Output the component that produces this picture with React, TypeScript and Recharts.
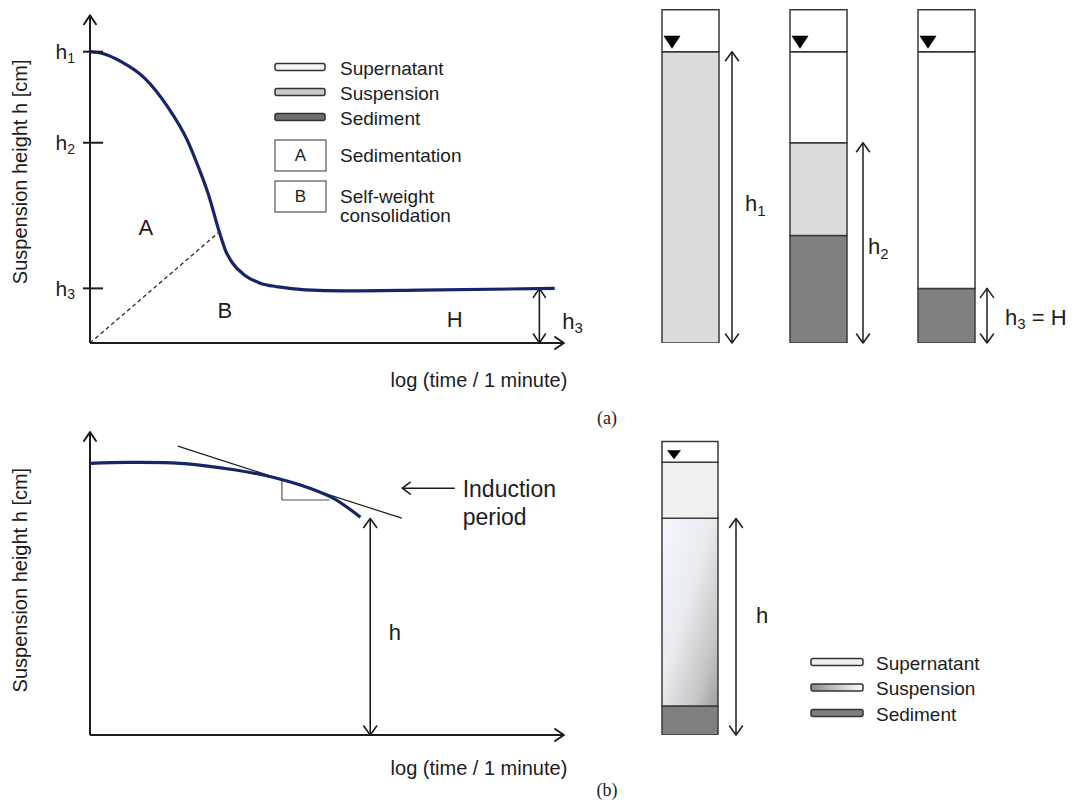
import React from "react";
import { LineChart, Line, XAxis, YAxis, ReferenceLine, ReferenceDot, Legend, BarChart, Bar } from "recharts";

const FONT = "Arial, 'Liberation Sans', Helvetica, sans-serif";
const SERIF = "'Times New Roman', 'Liberation Serif', serif";
const INK = "#1c1c1c";
const CURVE = "#16246a";
const EDGE = "#3a3a3a";

// ---------- (a) settling curve: log(time) vs suspension height ----------
const settleLogTime = [0, 0.27, 0.68, 1.18, 1.67, 2.09, 2.33, 2.54, 2.79, 2.91, 3.07, 3.32, 3.65, 4.06, 4.64, 5.47, 7.11, 10];
const settleHeight = [8.0, 7.95, 7.72, 7.27, 6.49, 5.58, 4.84, 4.11, 3.02, 2.56, 2.19, 1.87, 1.65, 1.54, 1.46, 1.43, 1.45, 1.5];
const heightTickValues = [1.5, 5.5, 8];
const heightTickSubs = ["3", "2", "1"];
const regionNames = ["A", "B", "H"];
const regionX = [1.2, 2.9, 7.85];
const regionY = [3.17, 0.88, 0.65];
const boundaryX = [0, 2.78];
const boundaryY = [0, 3.05];
const finalArrowX = 9.67;
const finalHeight = 1.5;
const finalLabelX = 10.16;
const finalLabelY = 0.6;

// ---------- (a) cylinders ----------
const cylinderNames = ["t1", "t2", "t3"];
const cylSediment = [0, 2.95, 1.5];
const cylSuspension = [8, 2.55, 0];
const cylSupernatant = [0, 2.5, 6.5];
const cylHeadspace = [1.15, 1.15, 1.15];
const cylWaterLevel = [8, 8, 8];
const cylMeasured = [8, 5.5, 1.5];
const cylArrowOffset = [42, 45, 41];
const cylLabelSub = ["1", "2", "3"];
const cylLabelTail = ["", "", " = H"];
const cylLabelY = [3.82, 2.64, 0.71];
const cylLabelOffset = [55, 50, 59];

// ---------- (b) induction curve ----------
const inductionLogTime = [0, 0.8, 1.6, 2.4, 3.1, 3.7, 4.2, 4.73, 5.24, 5.82];
const inductionHeight = [8.07, 8.1, 8.09, 8.01, 7.88, 7.73, 7.56, 7.33, 7.03, 6.47];
const tangentX = [1.89, 6.71];
const tangentY = [8.58, 6.44];
const slopeX = [4.13, 4.13, 5.15];
const slopeY = [7.62, 6.98, 6.98];
const measuredX = 6.03;
const measuredH = 6.43;
const pointerX = [7.85, 6.72];
const pointerY = 7.33;
const inductionText = ["Induction", "period"];
const inductionTextX = 8.02;
const inductionTextY = [7.3, 6.48];

// ---------- (b) cylinder ----------
const cylBNames = ["t"];
const cylBSediment = [0.86];
const cylBSuspension = [5.58];
const cylBSupernatant = [1.66];
const cylBHeadspace = [0.62];
const cylBWaterLevel = [8.1];

// ---------- legends ----------
const layerNames = ["Supernatant", "Suspension", "Sediment"];
const layerFillsA = ["#f6f6f6", "#c8c8c8", "#6e6e6e"];
const layerFillsB = ["#eeeeee", "url(#legSuspGrad)", "#7e7e7e"];
const phaseKeys = ["A", "B"];
const phaseNames = [["Sedimentation"], ["Self-weight", "consolidation"]];

const axisTitleY = "Suspension height h [cm]";
const axisTitleX = "log (time / 1 minute)";

const settleData = settleLogTime.map((x, i) => ({ x, h: settleHeight[i] }));
const inductionData = inductionLogTime.map((x, i) => ({ x, h: inductionHeight[i] }));
const cylData = cylinderNames.map((name, i) => ({
  name,
  sediment: cylSediment[i],
  suspension: cylSuspension[i],
  supernatant: cylSupernatant[i],
  headspace: cylHeadspace[i],
}));
const cylBData = cylBNames.map((name, i) => ({
  name,
  sediment: cylBSediment[i],
  suspension: cylBSuspension[i],
  supernatant: cylBSupernatant[i],
  headspace: cylBHeadspace[i],
}));

function chevronPath(tx: number, ty: number, ux: number, uy: number, L: number, W: number) {
  const bx = tx - ux * L;
  const by = ty - uy * L;
  const px = -uy;
  const py = ux;
  return `M${bx + px * W},${by + py * W}L${tx},${ty}L${bx - px * W},${by - py * W}`;
}

const arrowShape =
  (o: { dx?: number; start?: boolean; end?: boolean; width?: number; L?: number; W?: number; color?: string; dash?: string }) =>
  (p: any) => {
    const dx = o.dx ?? 0;
    const x1 = Number(p.x1) + dx;
    const y1 = Number(p.y1);
    const x2 = Number(p.x2) + dx;
    const y2 = Number(p.y2);
    if (![x1, y1, x2, y2].every(Number.isFinite)) return null;
    const len = Math.hypot(x2 - x1, y2 - y1) || 1;
    const ux = (x2 - x1) / len;
    const uy = (y2 - y1) / len;
    const L = o.L ?? 9;
    const W = o.W ?? 6;
    const color = o.color ?? INK;
    const w = o.width ?? 1.5;
    let heads = "";
    if (o.end) heads += chevronPath(x2, y2, ux, uy, L, W);
    if (o.start) heads += chevronPath(x1, y1, -ux, -uy, L, W);
    return (
      <g>
        <line x1={x1} y1={y1} x2={x2} y2={y2} stroke={color} strokeWidth={w} strokeDasharray={o.dash} />
        {heads && <path d={heads} fill="none" stroke={color} strokeWidth={w} strokeLinecap="round" strokeLinejoin="round" />}
      </g>
    );
  };

const textShape =
  (content: React.ReactNode, o: { size?: number; anchor?: "start" | "middle" | "end"; dx?: number; dy?: number; rotate?: number; family?: string }) =>
  (p: any) => {
    const x = Number(p.cx) + (o.dx ?? 0);
    const y = Number(p.cy) + (o.dy ?? 0);
    if (!Number.isFinite(x) || !Number.isFinite(y)) return null;
    return (
      <text
        x={x}
        y={y}
        fontSize={o.size ?? 20}
        fontFamily={o.family ?? FONT}
        fill={INK}
        textAnchor={o.anchor ?? "middle"}
        dominantBaseline="central"
        style={{ whiteSpace: "pre" }}
        transform={o.rotate ? `rotate(${o.rotate} ${x} ${y})` : undefined}
      >
        {content}
      </text>
    );
  };

const triangleShape = (dx: number, half: number, top: number, tip: number) => (p: any) => {
  const cx = Number(p.cx) + dx;
  const cy = Number(p.cy);
  if (!Number.isFinite(cx) || !Number.isFinite(cy)) return null;
  return <polygon points={`${cx - half},${cy - top} ${cx + half},${cy - top} ${cx},${cy - tip}`} fill="#000" />;
};

const subLabel = (sub: string, tail = "", subSize = 15) => (
  <>
    h
    <tspan fontSize={subSize} dy={6}>
      {sub}
    </tspan>
    {tail ? <tspan dy={-6}>{tail}</tspan> : null}
  </>
);

const HeightTick = (props: any) => {
  const { x, y, payload } = props;
  const i = heightTickValues.indexOf(payload?.value);
  return (
    <g>
      <line x1={x - 7} x2={x + 13} y1={y} y2={y} stroke={INK} strokeWidth={2} />
      <text x={x - 15} y={y} textAnchor="end" dominantBaseline="central" fontSize={21} fontFamily={FONT} fill={INK}>
        h
        <tspan fontSize={14} dy={6}>
          {heightTickSubs[i] ?? ""}
        </tspan>
      </text>
    </g>
  );
};

const LegendA = () => (
  <svg width={230} height={172} style={{ display: "block", overflow: "visible" }}>
    {layerNames.map((n, i) => {
      const cy = 12 + i * 25;
      return (
        <g key={n}>
          <rect x={5} y={cy - 3.5} width={50} height={7} rx={2} fill={layerFillsA[i]} stroke="#333" strokeWidth={1.5} />
          <text x={70} y={cy + 1} dominantBaseline="central" fontSize={19} fontFamily={FONT} fill={INK}>
            {n}
          </text>
        </g>
      );
    })}
    {phaseKeys.map((k, i) => {
      const top = 85 + i * 41;
      const cy = top + 15.5;
      return (
        <g key={k}>
          <rect x={5} y={top} width={51} height={31} fill="#fff" stroke="#555" strokeWidth={1.2} />
          <text x={30.5} y={cy} textAnchor="middle" dominantBaseline="central" fontSize={17} fontFamily={FONT} fill={INK}>
            {k}
          </text>
          {phaseNames[i].map((line, j) => (
            <text key={line} x={70} y={cy + j * 19} dominantBaseline="central" fontSize={19} fontFamily={FONT} fill={INK}>
              {line}
            </text>
          ))}
        </g>
      );
    })}
  </svg>
);

const LegendB = () => (
  <svg width={200} height={80} style={{ display: "block", overflow: "visible" }}>
    <defs>
      <linearGradient id="legSuspGrad" x1="0" y1="0" x2="1" y2="0">
        <stop offset="0" stopColor="#8a8a8a" />
        <stop offset="1" stopColor="#ffffff" />
      </linearGradient>
    </defs>
    {layerNames.map((n, i) => {
      const cy = 12 + i * 25.5;
      return (
        <g key={n}>
          <rect x={6} y={cy - 3.5} width={52} height={7} rx={2} fill={layerFillsB[i]} stroke="#333" strokeWidth={1.5} />
          <text x={71} y={cy + 1} dominantBaseline="central" fontSize={19} fontFamily={FONT} fill={INK}>
            {n}
          </text>
        </g>
      );
    })}
  </svg>
);

const caption = (t: string, left: number, top: number) => (
  <div
    style={{
      position: "absolute",
      left,
      top,
      width: 26,
      textAlign: "center",
      fontFamily: SERIF,
      fontSize: 18,
      lineHeight: "22px",
      color: INK,
    }}
  >
    {t}
  </div>
);

export default function App() {
  return (
    <div style={{ position: "absolute", left: 0, top: 0, width: 1074, height: 802, background: "#fff", overflow: "hidden" }}>
      {/* (a) settling curve */}
      <div style={{ position: "absolute", left: 0, top: 0 }}>
        <LineChart width={640} height={400} data={settleData} margin={{ top: 8, right: 76, bottom: 57, left: 30 }}>
          <XAxis type="number" dataKey="x" domain={[0, 10.2]} hide allowDataOverflow />
          <YAxis
            type="number"
            domain={[0, 9.2]}
            width={60}
            ticks={heightTickValues}
            interval={0}
            axisLine={false}
            tickLine={false}
            tickSize={0}
            tickMargin={0}
            tick={(p: any) => <HeightTick {...p} />}
            allowDataOverflow
          />
          <ReferenceLine segment={[{ x: 0, y: 0 }, { x: 0, y: 9.0 }]} ifOverflow="visible" shape={arrowShape({ end: true, width: 2 })} />
          <ReferenceLine segment={[{ x: 0, y: 0 }, { x: 10.2, y: 0 }]} ifOverflow="visible" shape={arrowShape({ end: true, width: 2 })} />
          <ReferenceLine
            segment={[{ x: boundaryX[0], y: boundaryY[0] }, { x: boundaryX[1], y: boundaryY[1] }]}
            ifOverflow="visible"
            shape={arrowShape({ width: 1.2, dash: "4 3" })}
          />
          <ReferenceLine
            segment={[{ x: finalArrowX, y: 0 }, { x: finalArrowX, y: finalHeight }]}
            ifOverflow="visible"
            shape={arrowShape({ start: true, end: true, width: 1.6, L: 9, W: 6 })}
          />
          <Line type="monotone" dataKey="h" stroke={CURVE} strokeWidth={3.2} dot={false} isAnimationActive={false} />
          {regionNames.map((n, i) => (
            <ReferenceDot key={n} x={regionX[i]} y={regionY[i]} ifOverflow="visible" shape={textShape(n, { size: 22 })} />
          ))}
          <ReferenceDot x={finalLabelX} y={finalLabelY} ifOverflow="visible" shape={textShape(subLabel("3"), { size: 22, anchor: "start" })} />
          <ReferenceDot x={8.37} y={-1.02} ifOverflow="visible" shape={textShape(axisTitleX, { size: 20 })} />
          <ReferenceDot x={-1.51} y={4.7} ifOverflow="visible" shape={textShape(axisTitleY, { size: 20, rotate: -90 })} />
          <Legend
            layout="horizontal"
            verticalAlign="middle"
            align="center"
            content={() => <LegendA />}
            wrapperStyle={{ left: 270, top: 55, width: 230, height: 172 }}
          />
        </LineChart>
      </div>

      {/* (a) cylinders */}
      <div style={{ position: "absolute", left: 620, top: 0 }}>
        <BarChart width={454} height={400} data={cylData} barSize={57} margin={{ top: 8, right: 64, bottom: 57, left: 6 }}>
          <XAxis dataKey="name" hide />
          <YAxis type="number" domain={[0, 9.2]} hide allowDataOverflow />
          <Bar dataKey="sediment" stackId="c" fill="#808080" stroke={EDGE} strokeWidth={1.5} isAnimationActive={false} />
          <Bar dataKey="suspension" stackId="c" fill="#dcdcdc" stroke={EDGE} strokeWidth={1.5} isAnimationActive={false} />
          <Bar dataKey="supernatant" stackId="c" fill="#ffffff" stroke={EDGE} strokeWidth={1.5} isAnimationActive={false} />
          <Bar dataKey="headspace" stackId="c" fill="#ffffff" stroke={EDGE} strokeWidth={1.5} isAnimationActive={false} />
          {cylinderNames.map((n, i) => (
            <ReferenceDot key={"tri" + n} x={n} y={cylWaterLevel[i]} ifOverflow="visible" shape={triangleShape(-18, 8.5, 16, 3)} />
          ))}
          {cylinderNames.map((n, i) => (
            <ReferenceLine
              key={"arr" + n}
              segment={[{ x: n, y: 0 }, { x: n, y: cylMeasured[i] }]}
              ifOverflow="visible"
              shape={arrowShape({ dx: cylArrowOffset[i], start: true, end: true, width: 1.5, L: 9, W: 6.5 })}
            />
          ))}
          {cylinderNames.map((n, i) => (
            <ReferenceDot
              key={"lab" + n}
              x={n}
              y={cylLabelY[i]}
              ifOverflow="visible"
              shape={textShape(subLabel(cylLabelSub[i], cylLabelTail[i]), { size: 22, anchor: "start", dx: cylLabelOffset[i] })}
            />
          ))}
        </BarChart>
      </div>

      {/* (b) induction curve */}
      <div style={{ position: "absolute", left: 0, top: 400 }}>
        <LineChart width={640} height={402} data={inductionData} margin={{ top: 32, right: 76, bottom: 67, left: 90 }}>
          <XAxis type="number" dataKey="x" domain={[0, 10.2]} hide allowDataOverflow />
          <YAxis type="number" domain={[0, 9]} hide allowDataOverflow />
          <ReferenceLine segment={[{ x: 0, y: 0 }, { x: 0, y: 9.0 }]} ifOverflow="visible" shape={arrowShape({ end: true, width: 2 })} />
          <ReferenceLine segment={[{ x: 0, y: 0 }, { x: 10.2, y: 0 }]} ifOverflow="visible" shape={arrowShape({ end: true, width: 2 })} />
          <ReferenceLine
            segment={[{ x: tangentX[0], y: tangentY[0] }, { x: tangentX[1], y: tangentY[1] }]}
            ifOverflow="visible"
            shape={arrowShape({ width: 1.2 })}
          />
          <ReferenceLine
            segment={[{ x: slopeX[0], y: slopeY[0] }, { x: slopeX[1], y: slopeY[1] }]}
            ifOverflow="visible"
            shape={arrowShape({ width: 1.2, color: "#555" })}
          />
          <ReferenceLine
            segment={[{ x: slopeX[1], y: slopeY[1] }, { x: slopeX[2], y: slopeY[2] }]}
            ifOverflow="visible"
            shape={arrowShape({ width: 1.2, color: "#555" })}
          />
          <ReferenceLine
            segment={[{ x: measuredX, y: 0 }, { x: measuredX, y: measuredH }]}
            ifOverflow="visible"
            shape={arrowShape({ start: true, end: true, width: 1.6, L: 9, W: 6.5 })}
          />
          <ReferenceLine
            segment={[{ x: pointerX[0], y: pointerY }, { x: pointerX[1], y: pointerY }]}
            ifOverflow="visible"
            shape={arrowShape({ end: true, width: 1.5, L: 8, W: 6 })}
          />
          <Line type="monotone" dataKey="h" stroke={CURVE} strokeWidth={3.2} dot={false} isAnimationActive={false} />
          <ReferenceDot x={6.43} y={3.03} ifOverflow="visible" shape={textShape("h", { size: 22, anchor: "start" })} />
          {inductionText.map((t, i) => (
            <ReferenceDot key={t} x={inductionTextX} y={inductionTextY[i]} ifOverflow="visible" shape={textShape(t, { size: 23, anchor: "start" })} />
          ))}
          <ReferenceDot x={8.37} y={-0.98} ifOverflow="visible" shape={textShape(axisTitleX, { size: 20 })} />
          <ReferenceDot x={-1.51} y={4.6} ifOverflow="visible" shape={textShape(axisTitleY, { size: 20, rotate: -90 })} />
        </LineChart>
      </div>

      {/* (b) cylinder */}
      <div style={{ position: "absolute", left: 620, top: 400 }}>
        <BarChart width={454} height={402} data={cylBData} barSize={56} margin={{ top: 32, right: 320, bottom: 67, left: 6 }}>
          <defs>
            <linearGradient id="suspGradB" x1="0" y1="0" x2="1" y2="1">
              <stop offset="0" stopColor="#f4f7fc" />
              <stop offset="0.45" stopColor="#e9ebef" />
              <stop offset="0.8" stopColor="#c4c4c4" />
              <stop offset="1" stopColor="#9e9e9e" />
            </linearGradient>
          </defs>
          <XAxis dataKey="name" hide />
          <YAxis type="number" domain={[0, 9]} hide allowDataOverflow />
          <Bar dataKey="sediment" stackId="c" fill="#808080" stroke={EDGE} strokeWidth={1.5} isAnimationActive={false} />
          <Bar dataKey="suspension" stackId="c" fill="url(#suspGradB)" stroke={EDGE} strokeWidth={1.5} isAnimationActive={false} />
          <Bar dataKey="supernatant" stackId="c" fill="#f0f0f0" stroke={EDGE} strokeWidth={1.5} isAnimationActive={false} />
          <Bar dataKey="headspace" stackId="c" fill="#ffffff" stroke={EDGE} strokeWidth={1.5} isAnimationActive={false} />
          {cylBNames.map((n, i) => (
            <ReferenceDot key={"tri" + n} x={n} y={cylBWaterLevel[i]} ifOverflow="visible" shape={triangleShape(-16, 7, 12, 3)} />
          ))}
          {cylBNames.map((n) => (
            <ReferenceLine
              key={"arr" + n}
              segment={[{ x: n, y: 0 }, { x: n, y: measuredH }]}
              ifOverflow="visible"
              shape={arrowShape({ dx: 46, start: true, end: true, width: 1.5, L: 9, W: 6.5 })}
            />
          ))}
          {cylBNames.map((n) => (
            <ReferenceDot key={"lab" + n} x={n} y={3.56} ifOverflow="visible" shape={textShape("h", { size: 22, anchor: "start", dx: 66 })} />
          ))}
          <Legend
            layout="horizontal"
            verticalAlign="middle"
            align="center"
            content={() => <LegendB />}
            wrapperStyle={{ left: 185, top: 250, width: 200, height: 80 }}
          />
        </BarChart>
      </div>

      {caption("(a)", 594, 407)}
      {caption("(b)", 594, 779)}
    </div>
  );
}
